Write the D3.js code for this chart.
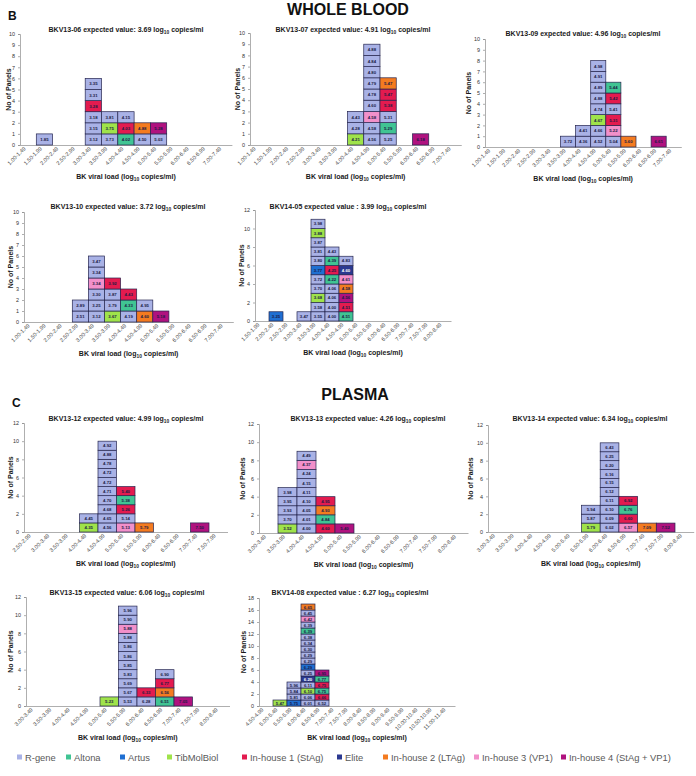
<!DOCTYPE html>
<html><head><meta charset="utf-8">
<script src="https://cdn.jsdelivr.net/npm/d3@7"></script>
<style>body{margin:0;background:#fff}svg{display:block;font-family:"Liberation Sans",Arial,sans-serif}</style>
</head><body><svg id="c" width="696" height="776"></svg>
<script>
// ---------- DATA ----------
const methodCodes = ["R","Al","Ar","T","H1","E","H2","H3","H4"];
const methodNames = ["R-gene","Altona","Artus","TibMolBiol","In-house 1 (StAg)","Elite","In-house 2 (LTAg)","In-house 3 (VP1)","In-house 4 (StAg + VP1)"];
const methodColors = ["#a9b2e6","#40c493","#1f6fd2","#9fe34a","#e31b4f","#2b3990","#f47b20","#f290ca","#b0127f"];

const cats1to7 = ["1.00-1.49","1.50-1.99","2.00-2.49","2.50-2.99","3.00-3.49","3.50-3.99","4.00-4.49","4.50-4.99","5.00-5.49","5.50-5.99","6.00-6.49","6.50-6.99","7.00-7.49"];
const cats15to8 = ["1.50-1.99","2.00-2.49","2.50-2.99","3.00-3.49","3.50-3.99","4.00-4.49","4.50-4.99","5.00-5.49","5.50-5.99","6.00-6.49","6.50-6.99","7.00-7.49","7.50-7.99","8.00-8.49"];
const cats25to75 = ["2.50-2.99","3.00-3.49","3.50-3.99","4.00-4.49","4.50-4.99","5.00-5.49","5.50-5.99","6.00-6.49","6.50-6.99","7.00-7.49","7.50-7.99"];
const cats3to8 = ["3.00-3.49","3.50-3.99","4.00-4.49","4.50-4.99","5.00-5.49","5.50-5.99","6.00-6.49","6.50-6.99","7.00-7.49","7.50-7.99","8.00-8.49"];
const cats45to11 = ["4.50-4.99","5.00-5.49","5.50-5.99","6.00-6.49","6.50-6.99","7.00-7.49","7.50-7.99","8.00-8.49","8.50-8.99","9.00-9.49","9.50-9.99","10.00-10.49","10.50-10.99","11.00-11.49"];

const panelIds = ["BKV13-06","BKV13-07","BKV13-09","BKV13-10","BKV14-05","BKV13-12","BKV13-13","BKV13-14","BKV13-15","BKV14-08"];
const expectedValues = [3.69,4.91,4.96,3.72,3.99,4.99,4.26,6.34,6.06,6.27];
const yMaxes = [10,10,10,10,12,12,12,12,12,18];
const yTickSteps = [1,1,1,1,2,2,2,2,2,2];

// each cell: [bin, value, method] stacked bottom to top in order
const p1Cells = [
 ["1.50-1.99",1.85,"R"],
 ["3.00-3.49",3.12,"R"],["3.00-3.49",3.15,"R"],["3.00-3.49",3.18,"R"],["3.00-3.49",3.28,"H1"],["3.00-3.49",3.31,"R"],["3.00-3.49",3.35,"R"],
 ["3.50-3.99",3.73,"R"],["3.50-3.99",3.75,"T"],["3.50-3.99",3.81,"R"],
 ["4.00-4.49",4.02,"Al"],["4.00-4.49",4.03,"H1"],["4.00-4.49",4.15,"R"],
 ["4.50-4.99",4.50,"R"],["4.50-4.99",4.88,"H2"],
 ["5.00-5.49",5.03,"R"],["5.00-5.49",5.28,"H4"]];
const p2Cells = [
 ["4.00-4.49",4.21,"T"],["4.00-4.49",4.28,"R"],["4.00-4.49",4.43,"R"],
 ["4.50-4.99",4.56,"R"],["4.50-4.99",4.58,"R"],["4.50-4.99",4.58,"H3"],["4.50-4.99",4.60,"R"],["4.50-4.99",4.78,"R"],["4.50-4.99",4.79,"R"],["4.50-4.99",4.80,"R"],["4.50-4.99",4.84,"R"],["4.50-4.99",4.88,"R"],
 ["5.00-5.49",5.25,"R"],["5.00-5.49",5.29,"Al"],["5.00-5.49",5.31,"R"],["5.00-5.49",5.38,"H1"],["5.00-5.49",5.47,"H1"],["5.00-5.49",5.47,"H2"],
 ["6.00-6.49",6.18,"H4"]];
const p3Cells = [
 ["3.50-3.99",3.72,"R"],
 ["4.00-4.49",4.36,"R"],["4.00-4.49",4.41,"R"],
 ["4.50-4.99",4.52,"R"],["4.50-4.99",4.66,"R"],["4.50-4.99",4.67,"T"],["4.50-4.99",4.74,"R"],["4.50-4.99",4.88,"R"],["4.50-4.99",4.89,"R"],["4.50-4.99",4.91,"R"],["4.50-4.99",4.98,"R"],
 ["5.00-5.49",5.04,"R"],["5.00-5.49",5.22,"H3"],["5.00-5.49",5.31,"H1"],["5.00-5.49",5.41,"R"],["5.00-5.49",5.42,"H1"],["5.00-5.49",5.44,"Al"],
 ["5.50-5.99",5.60,"H2"],
 ["6.50-6.99",6.61,"H4"]];
const p4Cells = [
 ["2.50-2.99",2.51,"R"],["2.50-2.99",2.89,"R"],
 ["3.00-3.49",3.12,"R"],["3.00-3.49",3.25,"R"],["3.00-3.49",3.30,"R"],["3.00-3.49",3.34,"H3"],["3.00-3.49",3.34,"R"],["3.00-3.49",3.47,"R"],
 ["3.50-3.99",3.67,"T"],["3.50-3.99",3.79,"R"],["3.50-3.99",3.87,"R"],["3.50-3.99",3.92,"H1"],
 ["4.00-4.49",4.19,"R"],["4.00-4.49",4.33,"Al"],["4.00-4.49",4.43,"H1"],
 ["4.50-4.99",4.60,"H2"],["4.50-4.99",4.95,"R"],
 ["5.00-5.49",5.18,"H4"]];
const p5Cells = [
 ["2.00-2.49",3.25,"Ar"],
 ["3.00-3.49",3.47,"R"],
 ["3.50-3.99",3.55,"R"],["3.50-3.99",3.58,"R"],["3.50-3.99",3.68,"T"],["3.50-3.99",3.70,"R"],["3.50-3.99",3.72,"R"],["3.50-3.99",3.77,"Ar"],["3.50-3.99",3.80,"R"],["3.50-3.99",3.81,"R"],["3.50-3.99",3.87,"R"],["3.50-3.99",3.88,"T"],["3.50-3.99",3.98,"R"],
 ["4.00-4.49",4.00,"R"],["4.00-4.49",4.00,"R"],["4.00-4.49",4.06,"R"],["4.00-4.49",4.06,"R"],["4.00-4.49",4.22,"Al"],["4.00-4.49",4.25,"H1"],["4.00-4.49",4.39,"Al"],["4.00-4.49",4.43,"R"],
 ["4.50-4.99",4.51,"Al"],["4.50-4.99",4.51,"H1"],["4.50-4.99",4.56,"H4"],["4.50-4.99",4.58,"H2"],["4.50-4.99",4.61,"H3"],["4.50-4.99",4.60,"E"],["4.50-4.99",4.83,"R"]];
const p6Cells = [
 ["4.00-4.49",4.35,"T"],["4.00-4.49",4.45,"R"],
 ["4.50-4.99",4.56,"R"],["4.50-4.99",4.65,"R"],["4.50-4.99",4.68,"R"],["4.50-4.99",4.70,"R"],["4.50-4.99",4.71,"R"],["4.50-4.99",4.72,"R"],["4.50-4.99",4.72,"R"],["4.50-4.99",4.78,"R"],["4.50-4.99",4.88,"R"],["4.50-4.99",4.92,"R"],
 ["5.00-5.49",5.13,"H3"],["5.00-5.49",5.14,"R"],["5.00-5.49",5.26,"H1"],["5.00-5.49",5.38,"Al"],["5.00-5.49",5.40,"H1"],
 ["5.50-5.99",5.79,"H2"],
 ["7.00-7.49",7.50,"H4"]];
const p7Cells = [
 ["3.50-3.99",3.52,"T"],["3.50-3.99",3.70,"R"],["3.50-3.99",3.93,"R"],["3.50-3.99",3.95,"R"],["3.50-3.99",3.98,"R"],
 ["4.00-4.49",4.00,"R"],["4.00-4.49",4.01,"R"],["4.00-4.49",4.05,"R"],["4.00-4.49",4.10,"R"],["4.00-4.49",4.11,"R"],["4.00-4.49",4.15,"R"],["4.00-4.49",4.24,"R"],["4.00-4.49",4.37,"H3"],["4.00-4.49",4.49,"R"],
 ["4.50-4.99",4.60,"H1"],["4.50-4.99",4.84,"Al"],["4.50-4.99",4.93,"H2"],["4.50-4.99",4.95,"H1"],
 ["5.00-5.49",5.40,"H4"]];
const p8Cells = [
 ["5.50-5.99",5.79,"T"],["5.50-5.99",5.87,"R"],["5.50-5.99",5.94,"R"],
 ["6.00-6.49",6.02,"R"],["6.00-6.49",6.09,"R"],["6.00-6.49",6.10,"R"],["6.00-6.49",6.11,"R"],["6.00-6.49",6.12,"R"],["6.00-6.49",6.15,"R"],["6.00-6.49",6.16,"R"],["6.00-6.49",6.20,"R"],["6.00-6.49",6.25,"R"],["6.00-6.49",6.43,"R"],
 ["6.50-6.99",6.57,"H3"],["6.50-6.99",6.60,"H1"],["6.50-6.99",6.76,"Al"],["6.50-6.99",6.92,"H1"],
 ["7.00-7.49",7.09,"H2"],
 ["7.50-7.99",7.52,"H4"]];
const p9Cells = [
 ["5.00-5.49",5.23,"T"],
 ["5.50-5.99",5.53,"R"],["5.50-5.99",5.67,"R"],["5.50-5.99",5.69,"R"],["5.50-5.99",5.83,"R"],["5.50-5.99",5.85,"R"],["5.50-5.99",5.86,"R"],["5.50-5.99",5.86,"R"],["5.50-5.99",5.88,"R"],["5.50-5.99",5.88,"H3"],["5.50-5.99",5.90,"R"],["5.50-5.99",5.96,"R"],
 ["6.00-6.49",6.28,"R"],["6.00-6.49",6.33,"H1"],
 ["6.50-6.99",6.51,"Al"],["6.50-6.99",6.56,"H2"],["6.50-6.99",6.77,"H1"],["6.50-6.99",6.90,"R"],
 ["7.00-7.49",7.05,"H4"]];
const p10Cells = [
 ["5.00-5.49",5.47,"T"],
 ["5.50-5.99",5.75,"Ar"],["5.50-5.99",5.81,"R"],["5.50-5.99",5.84,"R"],["5.50-5.99",5.96,"R"],
 ["6.00-6.49",6.01,"R"],["6.00-6.49",6.06,"R"],["6.00-6.49",6.10,"T"],["6.00-6.49",6.11,"R"],["6.00-6.49",6.20,"E"],["6.00-6.49",6.25,"R"],["6.00-6.49",6.29,"Ar"],["6.00-6.49",6.29,"R"],["6.00-6.49",6.29,"R"],["6.00-6.49",6.30,"R"],["6.00-6.49",6.34,"R"],["6.00-6.49",6.38,"R"],["6.00-6.49",6.39,"Al"],["6.00-6.49",6.39,"R"],["6.00-6.49",6.42,"H3"],["6.00-6.49",6.45,"R"],["6.00-6.49",6.65,"H2"],
 ["6.50-6.99",6.52,"R"],["6.50-6.99",6.66,"H1"],["6.50-6.99",6.75,"Al"],["6.50-6.99",6.75,"H1"],["6.50-6.99",6.77,"Al"],["6.50-6.99",6.95,"H4"]];

const panelCats = [cats1to7,cats1to7,cats1to7,cats1to7,cats15to8,cats25to75,cats3to8,cats3to8,cats3to8,cats45to11];
const panelCells = [p1Cells,p2Cells,p3Cells,p4Cells,p5Cells,p6Cells,p7Cells,p8Cells,p9Cells,p10Cells];

// ---------- LAYOUT ----------
const layout = [
 {x0:20, bw:16.3, y0:145, yT:34, tx:126, ty:32, ylx:8},
 {x0:250,bw:16.25,y0:145, yT:33, tx:353, ty:32, ylx:237},
 {x0:485,bw:15.1, y0:147, yT:39, tx:583, ty:36, ylx:468},
 {x0:24, bw:16.1, y0:322, yT:212,tx:128, ty:209,ylx:10},
 {x0:255,bw:14,   y0:321, yT:210,tx:348, ty:209,ylx:241},
 {x0:24, bw:18.5, y0:532, yT:423,tx:126, ty:421,ylx:10},
 {x0:259,bw:19,   y0:533, yT:424,tx:368, ty:421,ylx:242},
 {x0:488,bw:18.7, y0:532, yT:425,tx:590, ty:421,ylx:470},
 {x0:26, bw:18.5, y0:706, yT:597,tx:127, ty:595,ylx:10},
 {x0:259,bw:14,   y0:706, yT:598,tx:350, ty:595,ylx:243}
];

const svg = d3.select("#c");
const color = d3.scaleOrdinal().domain(methodCodes).range(methodColors);

function logText(sel, pre, post, fs){
  sel.append("tspan").text(pre);
  sel.append("tspan").attr("font-size", fs*0.7).attr("dy", fs*0.3).text("10");
  sel.append("tspan").attr("dy", -fs*0.3).text(post);
}

// headings
svg.append("text").attr("x",348).attr("y",15).attr("text-anchor","middle").attr("font-size",16).attr("font-weight","bold").attr("fill","#111").text("WHOLE BLOOD");
svg.append("text").attr("x",8).attr("y",20).attr("font-size",12).attr("font-weight","bold").attr("fill","#111").text("B");
svg.append("text").attr("x",355).attr("y",400).attr("text-anchor","middle").attr("font-size",16).attr("font-weight","bold").attr("fill","#111").text("PLASMA");
svg.append("text").attr("x",12).attr("y",407).attr("font-size",12).attr("font-weight","bold").attr("fill","#111").text("C");

panelIds.forEach((id,i)=>{
  const L = layout[i], cats = panelCats[i], cells = panelCells[i];
  const g = svg.append("g");
  const x = d3.scaleBand().domain(cats).range([L.x0, L.x0 + cats.length*L.bw]).padding(0);
  const y = d3.scaleLinear().domain([0, yMaxes[i]]).range([L.y0, L.yT]);

  // y axis
  const yAx = d3.axisLeft(y).tickValues(d3.range(0, yMaxes[i]+0.001, yTickSteps[i])).tickSize(2).tickPadding(3);
  const ya = g.append("g").attr("transform",`translate(${L.x0},0)`).call(yAx);
  ya.select(".domain").attr("stroke","#8c8c8c").attr("stroke-width",0.7);
  ya.selectAll(".tick line").attr("stroke","#8c8c8c").attr("stroke-width",0.7);
  ya.selectAll(".tick text").attr("font-size",5.4).attr("fill","#333").attr("font-family","Liberation Sans, Arial, sans-serif");

  // x axis
  const xAx = d3.axisBottom(x).tickSize(0).tickPadding(0);
  const xa = g.append("g").attr("transform",`translate(0,${L.y0})`).call(xAx);
  xa.select(".domain").attr("stroke","#8c8c8c").attr("stroke-width",0.7);
  xa.selectAll(".tick text").attr("font-size",5.5).attr("fill","#3a3a3a").attr("font-family","Liberation Sans, Arial, sans-serif")
    .attr("text-anchor","end").attr("dy",0).attr("transform","translate(-2,4) rotate(-45)");

  // cells
  const counts = {};
  const data = cells.map(c=>{ const k = counts[c[0]]||0; counts[c[0]] = k+1; return {bin:c[0], v:c[1], m:c[2], k}; });
  const cg = g.selectAll("g.cell").data(data).join("g").attr("class","cell");
  cg.append("rect")
    .attr("x", d=>x(d.bin)).attr("y", d=>y(d.k+1))
    .attr("width", x.bandwidth()).attr("height", d=>y(d.k)-y(d.k+1))
    .attr("fill", d=>color(d.m)).attr("stroke","#26264f").attr("stroke-width",0.7);
  cg.append("text")
    .attr("x", d=>x(d.bin)+x.bandwidth()/2).attr("y", d=>(y(d.k)+y(d.k+1))/2)
    .attr("text-anchor","middle").attr("dominant-baseline","central")
    .attr("font-size",4.3).attr("font-weight","bold")
    .attr("fill", d=>d.m==="E" ? "#fff" : "#1c1c45")
    .text(d=>d.v.toFixed(2));

  // title
  const sep = id.startsWith("BKV14") ? " : " : ": ";
  const t = g.append("text").attr("x",L.tx).attr("y",L.ty).attr("text-anchor","middle").attr("font-size",7).attr("font-weight","bold").attr("fill","#1a1a1a");
  logText(t, `${id} expected value${sep}${expectedValues[i].toFixed(2)} log`, " copies/ml", 7);

  // x label
  const xl = g.append("text").attr("x", L.x0 + cats.length*L.bw/2).attr("y", L.y0+34).attr("text-anchor","middle").attr("font-size",7).attr("font-weight","bold").attr("fill","#1a1a1a");
  logText(xl, "BK viral load (log", " copies/ml)", 7);

  // y label
  g.append("text").attr("transform",`translate(${L.ylx},${(L.y0+L.yT)/2}) rotate(-90)`).attr("text-anchor","middle").attr("dominant-baseline","central")
    .attr("font-size",7).attr("font-weight","bold").attr("fill","#1a1a1a").text("No of Panels");
});

// legend
const legX = [17,66,120,167,242,337,383,474,561];
const lg = svg.append("g").attr("transform","translate(0,757)");
methodNames.forEach((n,i)=>{
  lg.append("rect").attr("x",legX[i]).attr("y",-2.5).attr("width",5).attr("height",5).attr("fill",methodColors[i]);
  lg.append("text").attr("x",legX[i]+8).attr("y",0).attr("dominant-baseline","central").attr("font-size",9.4).attr("fill","#595959").text(n);
});
</script></body></html>
